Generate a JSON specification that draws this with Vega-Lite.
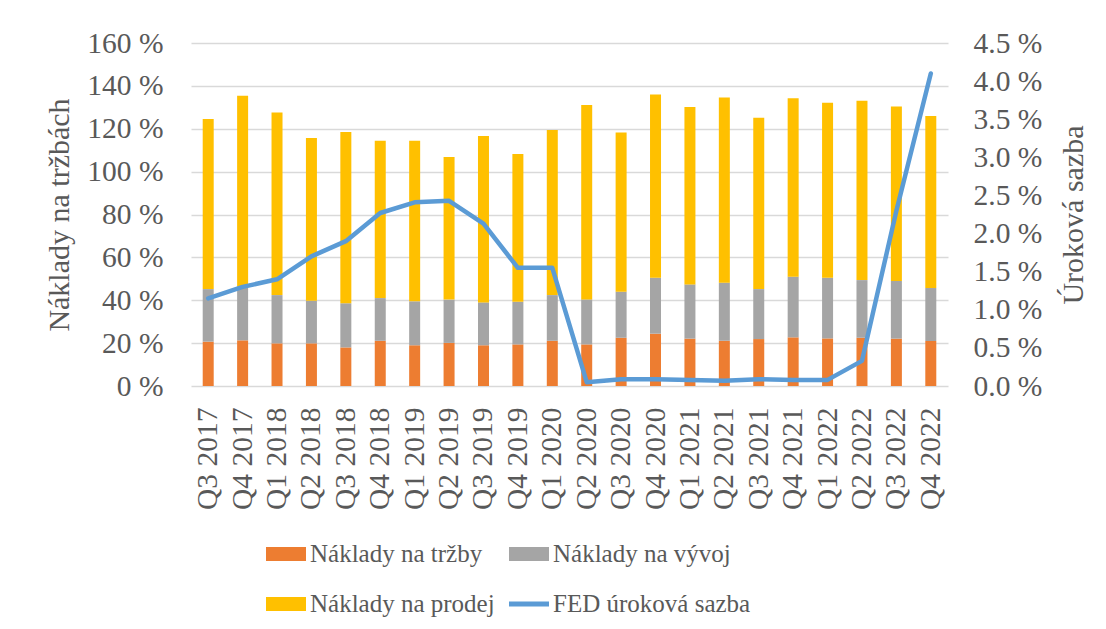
{
  "$schema": "https://vega.github.io/schema/vega-lite/v6.json",
  "width": 757,
  "height": 343,
  "autosize": {"type": "none"},
  "padding": {"left": 191, "top": 43, "right": 158, "bottom": 243},
  "background": "white",
  "config": {
    "view": {"stroke": null},
    "font": "Liberation Serif",
    "axis": {"labelFont": "Liberation Serif", "titleFont": "Liberation Serif", "labelColor": "#595959", "titleColor": "#595959", "titleFontWeight": "normal", "labelFontSize": 29.5, "titleFontSize": 30},
    "legend": {"labelFont": "Liberation Serif", "labelColor": "#595959", "labelFontSize": 25, "labelLimit": 0}
  },
  "datasets": {
    "q": [
      {"q": "Q3 2017", "Náklady na tržby": 20.7, "Náklady na vývoj": 24.5, "Náklady na prodej": 79.3, "fed": 1.15},
      {"q": "Q4 2017", "Náklady na tržby": 21.3, "Náklady na vývoj": 25.0, "Náklady na prodej": 89.1, "fed": 1.30},
      {"q": "Q1 2018", "Náklady na tržby": 19.9, "Náklady na vývoj": 22.5, "Náklady na prodej": 85.2, "fed": 1.40},
      {"q": "Q2 2018", "Náklady na tržby": 19.9, "Náklady na vývoj": 19.9, "Náklady na prodej": 75.9, "fed": 1.70},
      {"q": "Q3 2018", "Náklady na tržby": 18.0, "Náklady na vývoj": 20.6, "Náklady na prodej": 79.9, "fed": 1.90},
      {"q": "Q4 2018", "Náklady na tržby": 21.1, "Náklady na vývoj": 19.9, "Náklady na prodej": 73.4, "fed": 2.27},
      {"q": "Q1 2019", "Náklady na tržby": 19.0, "Náklady na vývoj": 20.5, "Náklady na prodej": 74.9, "fed": 2.41},
      {"q": "Q2 2019", "Náklady na tržby": 20.1, "Náklady na vývoj": 20.2, "Náklady na prodej": 66.5, "fed": 2.43},
      {"q": "Q3 2019", "Náklady na tržby": 19.0, "Náklady na vývoj": 20.0, "Náklady na prodej": 77.6, "fed": 2.13},
      {"q": "Q4 2019", "Náklady na tržby": 19.4, "Náklady na vývoj": 19.9, "Náklady na prodej": 68.9, "fed": 1.55},
      {"q": "Q1 2020", "Náklady na tržby": 21.1, "Náklady na vývoj": 21.3, "Náklady na prodej": 77.0, "fed": 1.55},
      {"q": "Q2 2020", "Náklady na tržby": 19.4, "Náklady na vývoj": 21.0, "Náklady na prodej": 90.7, "fed": 0.05},
      {"q": "Q3 2020", "Náklady na tržby": 22.5, "Náklady na vývoj": 21.5, "Náklady na prodej": 74.3, "fed": 0.09},
      {"q": "Q4 2020", "Náklady na tržby": 24.4, "Náklady na vývoj": 26.1, "Náklady na prodej": 85.5, "fed": 0.09},
      {"q": "Q1 2021", "Náklady na tržby": 22.1, "Náklady na vývoj": 25.3, "Náklady na prodej": 82.7, "fed": 0.08},
      {"q": "Q2 2021", "Náklady na tržby": 21.1, "Náklady na vývoj": 27.1, "Náklady na prodej": 86.4, "fed": 0.07},
      {"q": "Q3 2021", "Náklady na tržby": 21.9, "Náklady na vývoj": 23.3, "Náklady na prodej": 79.9, "fed": 0.09},
      {"q": "Q4 2021", "Náklady na tržby": 22.7, "Náklady na vývoj": 28.3, "Náklady na prodej": 83.2, "fed": 0.08},
      {"q": "Q1 2022", "Náklady na tržby": 22.2, "Náklady na vývoj": 28.3, "Náklady na prodej": 81.6, "fed": 0.08},
      {"q": "Q2 2022", "Náklady na tržby": 22.5, "Náklady na vývoj": 26.9, "Náklady na prodej": 83.7, "fed": 0.33},
      {"q": "Q3 2022", "Náklady na tržby": 22.1, "Náklady na vývoj": 26.9, "Náklady na prodej": 81.4, "fed": 2.30},
      {"q": "Q4 2022", "Náklady na tržby": 21.0, "Náklady na vývoj": 24.7, "Náklady na prodej": 80.2, "fed": 4.10}
    ]
  },
  "data": {"name": "q"},
  "encoding": {
    "x": {
      "field": "q", "type": "nominal", "sort": null,
      "scale": {"paddingInner": 0, "paddingOuter": 0},
      "axis": {"title": null, "labelAngle": -90, "labelAlign": "right", "labelBaseline": "middle", "labelPadding": 21, "domain": false, "ticks": false, "grid": false}
    }
  },
  "layer": [
    {
      "transform": [
        {"fold": ["Náklady na tržby", "Náklady na vývoj", "Náklady na prodej"], "as": ["series", "value"]},
        {"window": [{"op": "row_number", "as": "k"}], "groupby": ["q"]}
      ],
      "mark": {"type": "bar", "width": 11},
      "encoding": {
        "y": {
          "field": "value", "type": "quantitative", "stack": "zero",
          "scale": {"domain": [0, 160], "nice": false},
          "axis": {"title": "Náklady na tržbách", "values": [0, 20, 40, 60, 80, 100, 120, 140, 160], "labelExpr": "datum.value + ' %'", "labelPadding": 28, "domain": false, "ticks": false, "grid": true, "gridColor": "#D9D9D9", "gridWidth": 1.5, "titleAngle": 270, "titleX": -132, "titleY": 171.5, "titleBaseline": "middle", "titleAlign": "center"}
        },
        "order": {"field": "k", "type": "quantitative", "sort": "ascending"},
        "color": {
          "field": "series", "type": "nominal",
          "scale": {"domain": ["Náklady na tržby", "Náklady na vývoj", "Náklady na prodej", "FED úroková sazba"], "range": ["#ED7D31", "#A5A5A5", "#FFC000", "#5B9BD5"]},
          "legend": {
            "title": null, "orient": "none", "legendX": 75, "legendY": 491, "columns": 2, "direction": "horizontal",
            "columnPadding": 14, "rowPadding": 17, "labelOffset": 4, "symbolSize": 1600, "symbolStrokeWidth": 0,
            "encode": {"symbols": {"update": {
              "shape": {"signal": "datum.value === 'FED úroková sazba' ? 'M-1,-0.125H1V0.125H-1Z' : 'M-1,-0.35H1V0.35H-1Z'"},
              "fill": {"scale": "color", "field": "value"},
              "strokeWidth": {"value": 0},
              "opacity": {"value": 1}
            }}}
          }
        }
      }
    },
    {
      "mark": {"type": "line", "color": "#5B9BD5", "strokeWidth": 4.5, "strokeCap": "round", "strokeJoin": "round"},
      "encoding": {
        "y": {
          "field": "fed", "type": "quantitative",
          "scale": {"domain": [0, 4.5], "nice": false},
          "axis": {"orient": "right", "title": "Úroková sazba", "values": [0, 0.5, 1, 1.5, 2, 2.5, 3, 3.5, 4, 4.5], "labelExpr": "format(datum.value, '.1f') + ' %'", "labelPadding": 25, "domain": false, "ticks": false, "grid": false, "titleAngle": 270, "titleX": 125, "titleY": 171.5, "titleBaseline": "middle", "titleAlign": "center"}
        },
        "color": {"datum": "FED úroková sazba", "type": "nominal"}
      }
    }
  ],
  "resolve": {"scale": {"y": "independent"}}
}
